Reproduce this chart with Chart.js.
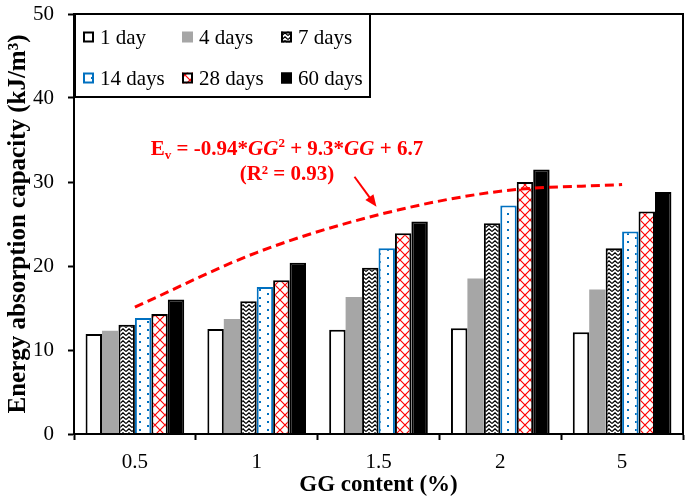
<!DOCTYPE html>
<html>
<head>
<meta charset="utf-8">
<script src="https://cdn.jsdelivr.net/npm/chart.js@4.4.1/dist/chart.umd.min.js"></script>
<style>
  body { margin: 0; background: #fff; }
  #wrap { width: 685px; height: 503px; }
</style>
</head>
<body>
<div id="wrap"><canvas id="chart" width="685" height="503"></canvas></div>
<script>
// GG content categories and energy absorption (kJ/m3) per curing age
const categories = ['0.5', '1', '1.5', '2', '5'];
const day1 = [11.9, 12.5, 12.4, 12.6, 12.1];
const day4 = [12.3, 13.7, 16.3, 18.5, 17.2];
const day7 = [13.0, 15.8, 19.8, 25.1, 22.1];
const day14 = [13.8, 17.5, 22.1, 27.2, 24.1];
const day28 = [14.3, 18.3, 23.9, 30.0, 26.5];
const day60 = [16.0, 20.4, 25.3, 31.5, 28.8];
// fitted curve at each category
const trend = [15.1, 21.6, 26.1, 28.9, 29.7];

const FONT = "'Liberation Serif', 'Times New Roman', serif";
const BLUE = '#0070c0';
const RED = '#ff0000';
const GRAY = '#a6a6a6';

Chart.defaults.font.family = FONT;
Chart.defaults.color = '#000';

function makePattern(w, h, draw) {
  const c = document.createElement('canvas');
  c.width = w;
  c.height = h;
  const g = c.getContext('2d');
  g.fillStyle = '#fff';
  g.fillRect(0, 0, w, h);
  draw(g);
  return document.getElementById('chart').getContext('2d').createPattern(c, 'repeat');
}

const zigzag = makePattern(6, 4, (g) => {
  g.strokeStyle = '#000';
  g.lineWidth = 1.3;
  g.beginPath();
  g.moveTo(0, 3.5);
  g.lineTo(3, 0.8);
  g.lineTo(6, 3.5);
  g.stroke();
});

const dots = makePattern(16, 8, (g) => {
  g.fillStyle = BLUE;
  g.fillRect(3, 1, 2, 2);
  g.fillRect(11, 5, 2, 2);
});

const net = makePattern(10, 10, (g) => {
  g.strokeStyle = RED;
  g.lineWidth = 1.2;
  g.beginPath();
  g.moveTo(0, 0); g.lineTo(10, 10);
  g.moveTo(10, 0); g.lineTo(0, 10);
  g.stroke();
});

const barDefaults = {
  borderWidth: 2,
  categoryPercentage: 0.81,
  barPercentage: 1.0,
  order: 1,
};

const datasets = [
  { ...barDefaults, label: '1 day', data: day1, backgroundColor: '#fff', borderColor: '#000' },
  { ...barDefaults, label: '4 days', data: day4, backgroundColor: GRAY, borderColor: GRAY, borderWidth: 0 },
  { ...barDefaults, label: '7 days', data: day7, backgroundColor: zigzag, borderColor: '#000' },
  { ...barDefaults, label: '14 days', data: day14, backgroundColor: dots, borderColor: BLUE },
  { ...barDefaults, label: '28 days', data: day28, backgroundColor: net, borderColor: '#000' },
  { ...barDefaults, label: '60 days', data: day60, backgroundColor: '#000', borderColor: '#000' },
  {
    type: 'line',
    label: 'fit',
    data: trend,
    borderColor: RED,
    borderWidth: 3,
    borderDash: [9, 5],
    pointRadius: 0,
    fill: false,
    cubicInterpolationMode: 'monotone',
    order: 0,
  },
];

const frame = {
  id: 'frame',
  afterDraw(chart) {
    const { ctx, chartArea: a } = chart;
    ctx.save();
    ctx.strokeStyle = '#000';
    ctx.lineWidth = 2;
    ctx.strokeRect(a.left, a.top, a.right - a.left, a.bottom - a.top);
    ctx.restore();
  },
};

const boxLegend = {
  id: 'boxLegend',
  afterDraw(chart) {
    const { ctx, chartArea: a } = chart;
    const bars = chart.data.datasets.filter((d) => d.type !== 'line');
    const x0 = a.left + 1;
    const y0 = a.top;
    ctx.save();
    ctx.strokeStyle = '#000';
    ctx.lineWidth = 2;
    ctx.strokeRect(x0, y0, 295, 83);
    ctx.font = '21px ' + FONT;
    ctx.textBaseline = 'middle';
    ctx.fillStyle = '#000';
    bars.forEach((ds, i) => {
      const col = i % 3;
      const row = Math.floor(i / 3);
      const bx = x0 + 8 + col * 99;
      const cy = y0 + 23 + row * 41;
      const s = 11;
      ctx.fillStyle = ds.backgroundColor;
      ctx.fillRect(bx, cy - s / 2, s, s);
      if (ds.borderWidth) {
        ctx.strokeStyle = ds.borderColor;
        ctx.lineWidth = 2;
        ctx.strokeRect(bx + 1, cy - s / 2 + 1, s - 2, s - 2);
      }
      ctx.fillStyle = '#000';
      ctx.fillText(ds.label, bx + 17, cy + 1);
    });
    ctx.restore();
  },
};

const equation = {
  id: 'equation',
  afterDraw(chart) {
    const { ctx, scales } = chart;
    const bold = 'bold 21px ' + FONT;
    const boldIt = 'italic bold 21px ' + FONT;
    const small = 'bold 13px ' + FONT;
    const parts = [
      { t: 'E', f: bold, dy: 0 },
      { t: 'v', f: small, dy: 4 },
      { t: ' = -0.94*', f: bold, dy: 0 },
      { t: 'GG', f: boldIt, dy: 0 },
      { t: '2', f: small, dy: -8 },
      { t: ' + 9.3*', f: bold, dy: 0 },
      { t: 'GG', f: boldIt, dy: 0 },
      { t: ' + 6.7', f: bold, dy: 0 },
    ];
    const cx = 287;
    const base1 = 155;
    ctx.save();
    ctx.fillStyle = RED;
    ctx.textBaseline = 'alphabetic';
    let total = 0;
    parts.forEach((p) => { ctx.font = p.f; total += ctx.measureText(p.t).width; });
    let x = cx - total / 2;
    parts.forEach((p) => {
      ctx.font = p.f;
      ctx.fillText(p.t, x, base1 + p.dy);
      x += ctx.measureText(p.t).width;
    });
    ctx.font = bold;
    ctx.textAlign = 'center';
    ctx.fillText('(R\u00B2 = 0.93)', cx, base1 + 25);

    // arrow pointing at the fitted curve
    const tx = scales.x.getPixelForValue(2) - 2;
    const ty = scales.y.getPixelForValue(trend[2]) - 8;
    const sx = tx - 22;
    const sy = ty - 30;
    const ang = Math.atan2(ty - sy, tx - sx);
    ctx.strokeStyle = RED;
    ctx.lineWidth = 2;
    ctx.beginPath();
    ctx.moveTo(sx, sy);
    ctx.lineTo(tx - 8 * Math.cos(ang), ty - 8 * Math.sin(ang));
    ctx.stroke();
    ctx.beginPath();
    ctx.moveTo(tx, ty);
    ctx.lineTo(tx - 12 * Math.cos(ang) + 5 * Math.sin(ang), ty - 12 * Math.sin(ang) - 5 * Math.cos(ang));
    ctx.lineTo(tx - 12 * Math.cos(ang) - 5 * Math.sin(ang), ty - 12 * Math.sin(ang) + 5 * Math.cos(ang));
    ctx.closePath();
    ctx.fill();
    ctx.restore();
  },
};

new Chart(document.getElementById('chart'), {
  type: 'bar',
  data: { labels: categories, datasets },
  options: {
    responsive: false,
    animation: false,
    layout: { padding: { top: 14, right: 2, left: 0, bottom: 0 } },
    plugins: {
      legend: { display: false },
      tooltip: { enabled: false },
    },
    scales: {
      x: {
        grid: { drawOnChartArea: false, tickLength: 6, tickWidth: 2, tickColor: '#000', offset: true },
        border: { color: '#000', width: 2 },
        ticks: { font: { size: 21 }, color: '#000', padding: 10 },
        title: { display: true, text: 'GG content (%)', font: { size: 23, weight: 'bold' }, color: '#000' },
        afterFit: (scale) => {
          scale.height = 69;
          scale.paddingLeft = 0;
          scale.paddingRight = 0;
        },
      },
      y: {
        min: 0,
        max: 50,
        ticks: { stepSize: 10, font: { size: 21 }, color: '#000', padding: 14 },
        grid: { drawOnChartArea: false, tickLength: 6, tickWidth: 2, tickColor: '#000' },
        border: { color: '#000', width: 2 },
        title: { display: true, text: 'Energy absorption capacity (kJ/m\u00B3)', font: { size: 25, weight: 'bold' }, color: '#000' },
        afterFit: (scale) => {
          scale.width = 74;
          scale.paddingTop = 0;
          scale.paddingBottom = 0;
        },
      },
    },
  },
  plugins: [frame, boxLegend, equation],
});
</script>
</body>
</html>
